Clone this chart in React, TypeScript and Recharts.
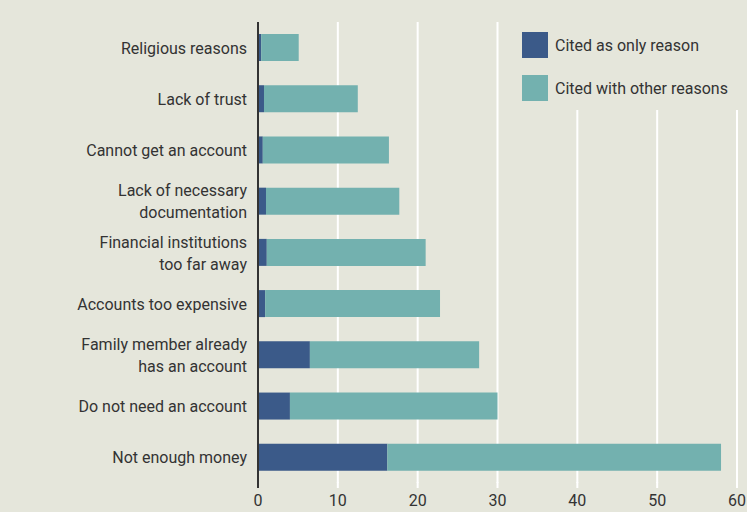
import { BarChart, Bar, XAxis, YAxis, CartesianGrid } from "recharts"

const reasons = [
  "Religious reasons",
  "Lack of trust",
  "Cannot get an account",
  "Lack of necessary\ndocumentation",
  "Financial institutions\ntoo far away",
  "Accounts too expensive",
  "Family member already\nhas an account",
  "Do not need an account",
  "Not enough money"
]
const onlyReason = [0.4, 0.75, 0.6, 1.0, 1.1, 0.9, 6.5, 4.0, 16.2]
const withOthers = [4.7, 11.75, 15.8, 16.7, 19.9, 21.9, 21.2, 26.0, 41.8]
const seriesNames = ["Cited as only reason", "Cited with other reasons"]
const xTicks = [0, 10, 20, 30, 40, 50, 60]

const BG = "#e5e6db"
const DARK = "#3b5a89"
const LIGHT = "#73b1af"
const TEXT = "#333"
const FONT = "'Liberation Sans Narrow', 'Roboto', sans-serif"

const data = reasons.map((r, i) => ({
  reason: r,
  only: onlyReason[i],
  other: withOthers[i]
}))

function YTick(props: any) {
  const { x, y, payload } = props
  const lines = String(payload.value).split("\n")
  const lh = 22
  const start = y - ((lines.length - 1) * lh) / 2
  return (
    <text
      x={x}
      y={start}
      textAnchor="end"
      fill={TEXT}
      fontSize={16}
      fontFamily={FONT}
      dominantBaseline="central"
    >
      {lines.map((l, i) => (
        <tspan key={i} x={x} y={start + i * lh}>
          {l}
        </tspan>
      ))}
    </text>
  )
}

function XTick(props: any) {
  const { x, y, payload } = props
  return (
    <g>
      <line
        x1={x}
        x2={x}
        y1={y - 1}
        y2={y + 5}
        stroke={payload.value === 0 ? "#333" : "#fff"}
        strokeWidth={2}
      />
      <text
        x={x}
        y={y + 23}
        textAnchor="middle"
        fill={TEXT}
        fontSize={16}
        fontFamily={FONT}
      >
        {payload.value}
      </text>
    </g>
  )
}

export default function App() {
  return (
    <div
      style={{
        position: "fixed",
        left: 0,
        top: 0,
        width: 747,
        height: 512,
        background: BG
      }}
    >
      <BarChart
        width={747}
        height={512}
        data={data}
        layout="vertical"
        margin={{ top: 22, right: 10, bottom: 0, left: 0 }}
        barCategoryGap={0}
      >
        <CartesianGrid
          horizontal={false}
          stroke="#fff"
          strokeWidth={2}
        />
        <XAxis
          type="number"
          domain={[0, 60]}
          ticks={xTicks}
          axisLine={false}
          tickLine={false}
          tickSize={0}
          tickMargin={0}
          height={29}
          tick={<XTick />}
          interval={0}
        />
        <YAxis
          type="category"
          dataKey="reason"
          width={258}
          axisLine={{ stroke: "#333", strokeWidth: 2 }}
          tickLine={false}
          tickSize={0}
          tickMargin={11}
          tick={<YTick />}
          interval={0}
        />
        <Bar
          dataKey="only"
          stackId="a"
          fill={DARK}
          barSize={27}
          isAnimationActive={false}
        />
        <Bar
          dataKey="other"
          stackId="a"
          fill={LIGHT}
          barSize={27}
          isAnimationActive={false}
        />
      </BarChart>

      <div
        style={{
          position: "absolute",
          left: 505,
          top: 0,
          width: 242,
          height: 110,
          background: BG,
          fontFamily: FONT,
          fontSize: 16,
          color: TEXT
        }}
      >
        {seriesNames.map((name, i) => (
          <div
            key={name}
            style={{
              position: "absolute",
              left: 17,
              top: 32 + i * 43,
              display: "flex",
              alignItems: "center",
              whiteSpace: "nowrap"
            }}
          >
            <div
              style={{
                width: 26,
                height: 26,
                background: i === 0 ? DARK : LIGHT,
                marginRight: 7
              }}
            />
            {name}
          </div>
        ))}
      </div>
    </div>
  )
}
